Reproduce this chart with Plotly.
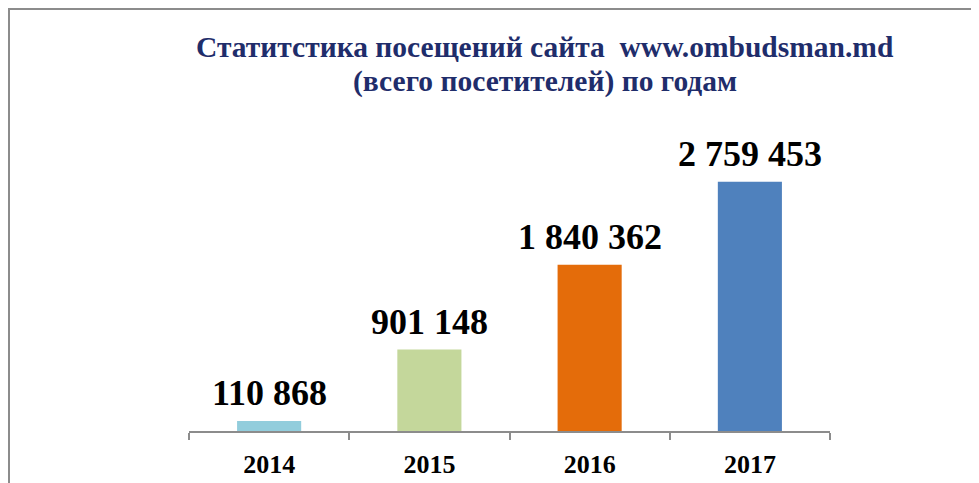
import plotly.graph_objects as go

years = ["2014", "2015", "2016", "2017"]
visitors = [110868, 901148, 1840362, 2759453]
bar_colors = ["#92CDDC", "#C4D79B", "#E46C0A", "#4F81BD"]
title_lines = ["Статитстика посещений сайта  www.ombudsman.md", "(всего посетителей) по годам"]

def fmt(v):
    return f"{v:,}".replace(",", " ")

SERIF = "Liberation Serif, Times New Roman, serif"
W, H = 979, 483
L, R, T, B = 181, 157, 152, 60
PW, PH = W - L - R, H - T - B

def px_x(x):
    return (x - L) / PW

def px_y(y):
    return (H - B - y) / PH

fig = go.Figure()
fig.add_trace(go.Bar(
    x=years, y=visitors,
    marker=dict(color=bar_colors, line=dict(width=0)),
    width=0.4,
    hoverinfo="x+y",
))

for i, v in enumerate(visitors):
    fig.add_annotation(
        x=i, y=v, text="<b>" + fmt(v) + "</b>", showarrow=False,
        xanchor="center", yanchor="bottom", yshift=6,
        font=dict(family=SERIF, size=36, color="#000000"),
    )

for line, ypix in zip(title_lines, [39, 74]):
    fig.add_annotation(
        xref="paper", yref="paper", x=px_x(537), y=px_y(ypix),
        text="<b>" + line + "</b>", showarrow=False,
        xanchor="center", yanchor="middle",
        font=dict(family=SERIF, size=29.5, color="#1F2D6B"),
    )

fig.add_shape(
    type="rect", xref="paper", yref="paper",
    x0=px_x(1), x1=px_x(W + 20),
    y0=px_y(H + 20), y1=px_y(1),
    line=dict(color="#8C8C8C", width=2), fillcolor="rgba(0,0,0,0)", layer="below",
)

fig.update_layout(
    width=W, height=H,
    margin=dict(l=L, r=R, t=T, b=B, autoexpand=False),
    paper_bgcolor="#FFFFFF", plot_bgcolor="#FFFFFF",
    showlegend=False,
    xaxis=dict(
        type="category", range=[-0.5, 3.5], tickson="boundaries", ticks="outside", ticklen=7,
        tickwidth=2, tickcolor="#8C8C8C", tickangle=0,
        showline=True, linecolor="#8C8C8C", linewidth=2,
        showgrid=False, zeroline=False,
        ticklabelstandoff=9,
        tickprefix="<b>", ticksuffix="</b>",
        tickfont=dict(family=SERIF, size=26, color="#000000"),
    ),
    yaxis=dict(range=[0, 3000000], visible=False, showgrid=False, zeroline=False),
    font=dict(family=SERIF),
)

fig.write_html("out.html")
